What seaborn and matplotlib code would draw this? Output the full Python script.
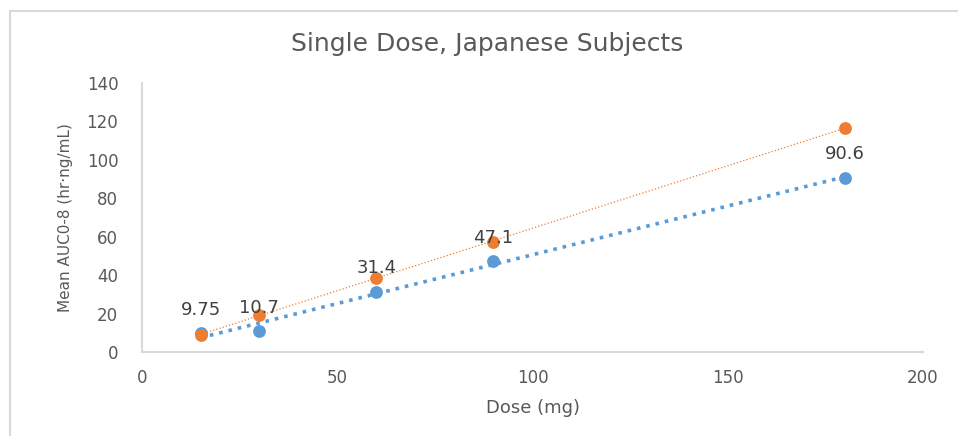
import pandas as pd
import matplotlib.pyplot as plt
from matplotlib.lines import Line2D
import seaborn as sns

# values
dose = [15, 30, 60, 90, 180]
auc_blue = [9.75, 10.7, 31.4, 47.1, 90.6]
auc_orange = [9.0, 19.2, 38.6, 57.4, 116.6]
x_ticks = [0, 50, 100, 150, 200]
y_ticks = [0, 20, 40, 60, 80, 100, 120, 140]

blue = "#5B9BD5"
orange = "#ED7D31"
grey_text = "#595959"
grey_line = "#D9D9D9"

df = pd.DataFrame({
    "Dose": dose * 2,
    "AUC": auc_blue + auc_orange,
    "Series": ["blue"] * len(dose) + ["orange"] * len(dose),
})

sns.set_theme(style="white")
plt.rcParams["font.family"] = ["DejaVu Sans"]

fig = plt.figure(figsize=(9.58, 4.36), dpi=100)
ax = fig.add_axes([0.1482, 0.1927, 0.8153, 0.6169])

# blue series with thick dotted trendline
sns.regplot(data=df[df["Series"] == "blue"], x="Dose", y="AUC", ax=ax, ci=None,
            scatter_kws=dict(s=85, color=blue, alpha=1, linewidths=0, zorder=3),
            line_kws=dict(color=blue, lw=2.6, ls=":", zorder=2))

# orange series with thin dotted trendline
sns.regplot(data=df[df["Series"] == "orange"], x="Dose", y="AUC", ax=ax, ci=None,
            scatter_kws=dict(s=85, color=orange, alpha=1, linewidths=0, zorder=4),
            line_kws=dict(color=orange, lw=0.9, ls=":", zorder=2))

# data labels for the blue series
for xv, yv in zip(dose, auc_blue):
    ax.annotate(f"{yv:g}", (xv, yv), xytext=(0, 17), textcoords="offset points",
                ha="center", va="center", fontsize=13, color="#404040", zorder=5)

ax.set_xlim(0, 200)
ax.set_ylim(0, 140)
ax.set_xticks(x_ticks)
ax.set_yticks(y_ticks)
ax.tick_params(axis="both", length=0, labelsize=12, colors=grey_text)
ax.tick_params(axis="y", pad=17)
ax.tick_params(axis="x", pad=12)

sns.despine(ax=ax)
for side in ["left", "bottom"]:
    ax.spines[side].set_color(grey_line)
    ax.spines[side].set_linewidth(1.5)

ax.set_xlabel("Dose (mg)", fontsize=13, color=grey_text, labelpad=9)
ax.set_ylabel("Mean AUC0-8 (hr·ng/mL)", fontsize=11, color=grey_text, labelpad=10)

fig.text(0.509, 0.90, "Single Dose, Japanese Subjects", ha="center", va="center",
         fontsize=18, color=grey_text)

# chart border (left and top edges visible in the reference)
fig.add_artist(Line2D([0.0105, 0.0105], [0.0, 0.975], transform=fig.transFigure,
                      color=grey_line, lw=1.5))
fig.add_artist(Line2D([0.0105, 1.0], [0.975, 0.975], transform=fig.transFigure,
                      color=grey_line, lw=1.5))

fig.savefig("out.png", dpi=100, facecolor="white")
